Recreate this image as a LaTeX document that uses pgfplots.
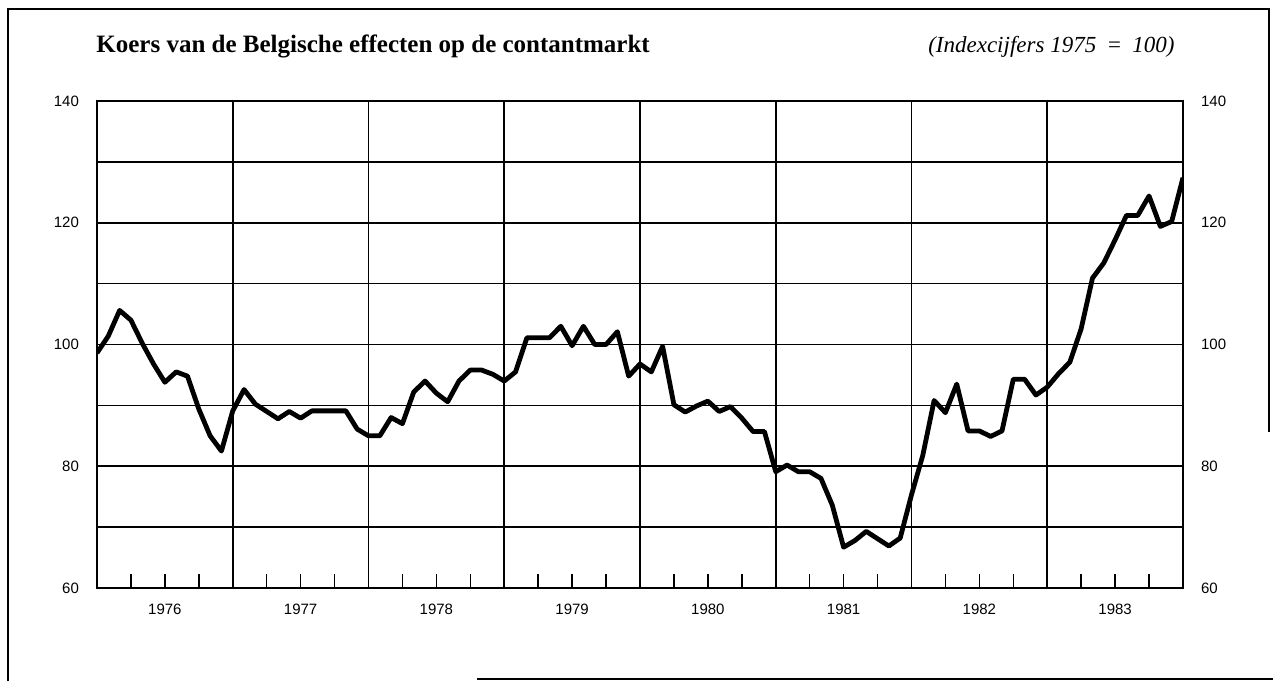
\documentclass[border=0pt]{standalone}
\usepackage{fontspec}
\setmainfont{Liberation Serif}
\setsansfont{Liberation Sans}
\usepackage{pgfplots}
\pgfplotsset{compat=1.18}
\usepackage{pgfplotstable}

\pgfplotstableread{
m v
0 98.6
1 101.4
2 105.6
3 104.0
4 100.2
5 96.8
6 93.8
7 95.5
8 94.8
9 89.4
10 85.0
11 82.5
12 89.1
13 92.6
14 90.2
15 89.0
16 87.8
17 89.0
18 87.9
19 89.1
20 89.1
21 89.1
22 89.1
23 86.1
24 85.0
25 85.0
26 88.0
27 87.0
28 92.2
29 94.0
30 92.0
31 90.6
32 94.0
33 95.8
34 95.8
35 95.1
36 94.0
37 95.5
38 101.1
39 101.1
40 101.1
41 103.0
42 99.8
43 103.0
44 100.0
45 100.0
46 102.1
47 94.8
48 96.8
49 95.5
50 99.7
51 90.1
52 88.9
53 89.9
54 90.7
55 89.0
56 89.8
57 87.9
58 85.7
59 85.7
60 79.1
61 80.2
62 79.1
63 79.1
64 78.0
65 73.6
66 66.7
67 67.8
68 69.3
69 68.1
70 66.9
71 68.2
72 75.3
73 81.8
74 90.8
75 88.8
76 93.5
77 85.8
78 85.8
79 84.9
80 85.8
81 94.3
82 94.3
83 91.7
84 93.0
85 95.2
86 97.1
87 102.6
88 110.9
89 113.4
90 117.2
91 121.2
92 121.2
93 124.4
94 119.4
95 120.2
96 127.4
}\koers

\begin{document}
\begin{tikzpicture}
\path[use as bounding box] (0pt,0pt) rectangle (636.5pt,340.5pt);
% outer frame (partly faded in the scan)
\draw[line width=1.3pt] (238.5pt,1pt) -- (636.5pt,1pt);
\draw[line width=1.3pt] (4pt,0pt) -- (4pt,336pt) -- (634.5pt,336pt) -- (634.5pt,124.5pt);
% titles
\node[anchor=base west, font=\fontsize{12.5}{15}\selectfont\bfseries, inner sep=0pt] at (48pt,314pt)
  {Koers van de Belgische effecten op de contantmarkt};
\node[anchor=base east, font=\fontsize{11.5}{14}\selectfont\itshape, inner sep=0pt] at (587.5pt,314pt)
  {(Indexcijfers 1975\hspace{0.45em}=\hspace{0.45em}100)};

\begin{axis}[
  at={(48.5pt,46.5pt)}, anchor=south west,
  scale only axis, width=543pt, height=243.5pt,
  xmin=0, xmax=96, ymin=60, ymax=140,
  axis line style={line width=1pt},
  xtick={3,6,9,15,18,21,27,30,33,39,42,45,51,54,57,63,66,69,75,78,81,87,90,93},
  xticklabels={,1976,,,1977,,,1978,,,1979,,,1980,,,1981,,,1982,,,1983,},
  xtick pos=bottom, tick align=inside,
  major tick length=7pt,
  xtick style={line width=0.8pt, black},
  minor xtick={12,24,36,48,60,72,84},
  minor tick length=0pt,
  xminorgrids=true,
  ytick={60,80,100,120,140},
  minor ytick={70,90,110,130},
  ytick style={draw=none},
  ymajorgrids=true, yminorgrids=true,
  grid style={line width=0.8pt, black},
  minor grid style={line width=0.8pt, black},
  /pgf/number format/assume math mode=true,
  ticklabel style={font=\sffamily\fontsize{7.5}{8}\selectfont},
  xticklabel style={yshift=-4.5pt},
  yticklabel style={xshift=-5.5pt},
]
\addplot[line width=2.4pt, line join=round, black] table[x=m,y=v]{\koers};
\end{axis}

\begin{axis}[
  at={(48.5pt,46.5pt)}, anchor=south west,
  scale only axis, width=543pt, height=243.5pt,
  xmin=0, xmax=96, ymin=60, ymax=140,
  axis x line=none, axis y line*=right,
  axis line style={line width=1pt},
  ytick={60,80,100,120,140},
  ytick style={draw=none},
  /pgf/number format/assume math mode=true,
  ticklabel style={font=\sffamily\fontsize{7.5}{8}\selectfont},
  yticklabel style={xshift=5.5pt},
]
\end{axis}
\end{tikzpicture}
\end{document}
